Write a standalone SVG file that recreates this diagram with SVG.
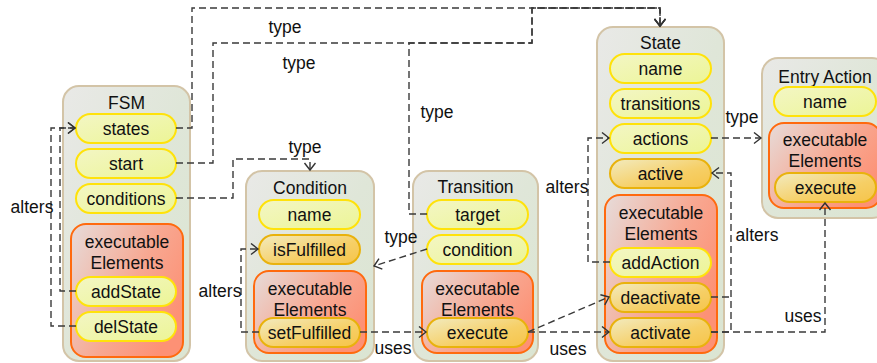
<svg xmlns="http://www.w3.org/2000/svg" width="877" height="363" viewBox="0 0 877 363">
<defs>
<linearGradient id="gCont" x1="0" y1="0" x2="1" y2="1"><stop offset="0" stop-color="#e9e9e7"/><stop offset="0.5" stop-color="#dfe6d8"/><stop offset="1" stop-color="#dbe5d2"/></linearGradient>
<linearGradient id="gYel" x1="0" y1="0" x2="1" y2="1"><stop offset="0" stop-color="#f3f6c4"/><stop offset="1" stop-color="#ecf596"/></linearGradient>
<linearGradient id="gOra" x1="0" y1="0" x2="1" y2="1"><stop offset="0" stop-color="#f2ebc0"/><stop offset="0.6" stop-color="#f6cf66"/><stop offset="1" stop-color="#f6c44a"/></linearGradient>
<linearGradient id="gExe" x1="0" y1="0" x2="1" y2="0.6"><stop offset="0" stop-color="#e6dcda"/><stop offset="0.6" stop-color="#f7a892"/><stop offset="1" stop-color="#fd9175"/></linearGradient>
<marker id="arr" markerUnits="userSpaceOnUse" markerWidth="12" markerHeight="14" refX="8" refY="6" orient="auto"><path d="M1,0.5 L8,6 L1,11.5" fill="none" stroke="#333" stroke-width="1.4"/></marker>
</defs>
<style>
.cont{fill:url(#gCont);stroke:#d3c4a7;stroke-width:2}
.exe{fill:url(#gExe);stroke:#ff6a0e;stroke-width:2}
.py{fill:url(#gYel);stroke:#ffe20a;stroke-width:2}
.po{fill:url(#gOra);stroke:#e9b20c;stroke-width:2}
text{font-family:"Liberation Sans",Arial,sans-serif;font-size:17.5px;fill:#111;text-anchor:middle;dominant-baseline:central}
.c path{fill:none;stroke:#3a3a3a;stroke-width:1.4;stroke-dasharray:7 4}
.lbl text{text-anchor:middle}
</style>

<g id="FSM">
<rect class="cont" x="63" y="86" width="127" height="275" rx="16"/>
<text x="126.5" y="103">FSM</text>
<rect class="py" x="76" y="114" width="100" height="29" rx="14.5"/><text x="126" y="128.5">states</text>
<rect class="py" x="76" y="149" width="100" height="29" rx="14.5"/><text x="126" y="163.5">start</text>
<rect class="py" x="76" y="184" width="100" height="29" rx="14.5"/><text x="126" y="198.5">conditions</text>
<g id="FSM-exec">
<rect class="exe" x="71" y="224" width="112" height="133" rx="15"/>
<text x="127" y="242">executable</text><text x="127" y="263">Elements</text>
<rect class="py" x="76" y="277" width="100" height="29" rx="14.5"/><text x="126" y="291.5">addState</text>
<rect class="py" x="76" y="312" width="100" height="29" rx="14.5"/><text x="126" y="326.5">delState</text>
</g>
</g>

<g id="Condition">
<rect class="cont" x="246" y="171" width="128" height="190" rx="16"/>
<text x="310" y="188">Condition</text>
<rect class="py" x="259" y="200" width="101" height="29" rx="14.5"/><text x="309.5" y="214.5">name</text>
<rect class="po" x="259" y="235" width="101" height="29" rx="14.5"/><text x="309.5" y="249.5">isFulfilled</text>
<g id="Condition-exec">
<rect class="exe" x="254" y="271" width="112" height="82" rx="15"/>
<text x="310" y="289">executable</text><text x="310" y="310">Elements</text>
<rect class="po" x="259" y="318" width="101" height="29" rx="14.5"/><text x="309.5" y="332.5">setFulfilled</text>
</g>
</g>

<g id="Transition">
<rect class="cont" x="413" y="171" width="125" height="190" rx="16"/>
<text x="475.5" y="187">Transition</text>
<rect class="py" x="427" y="200" width="101" height="29" rx="14.5"/><text x="477.5" y="214.5">target</text>
<rect class="py" x="427" y="235" width="101" height="29" rx="14.5"/><text x="477.5" y="249.5">condition</text>
<g id="Transition-exec">
<rect class="exe" x="422" y="271" width="111" height="82" rx="15"/>
<text x="477.5" y="289">executable</text><text x="477.5" y="310">Elements</text>
<rect class="po" x="427" y="318" width="101" height="29" rx="14.5"/><text x="477.5" y="332.5">execute</text>
</g>
</g>

<g id="State">
<rect class="cont" x="597" y="27" width="127" height="334" rx="16"/>
<text x="660.5" y="43">State</text>
<rect class="py" x="610" y="54" width="101" height="29" rx="14.5"/><text x="660.5" y="68.5">name</text>
<rect class="py" x="610" y="89" width="101" height="29" rx="14.5"/><text x="660.5" y="103.5">transitions</text>
<rect class="py" x="610" y="124" width="101" height="29" rx="14.5"/><text x="660.5" y="138.5">actions</text>
<rect class="po" x="610" y="159" width="101" height="29" rx="14.5"/><text x="660.5" y="173.5">active</text>
<g id="State-exec">
<rect class="exe" x="605" y="195" width="112" height="158" rx="15"/>
<text x="661" y="213">executable</text><text x="661" y="234">Elements</text>
<rect class="py" x="610" y="248" width="101" height="29" rx="14.5"/><text x="660.5" y="262.5">addAction</text>
<rect class="po" x="610" y="283" width="101" height="29" rx="14.5"/><text x="660.5" y="297.5">deactivate</text>
<rect class="po" x="610" y="318" width="101" height="29" rx="14.5"/><text x="660.5" y="332.5">activate</text>
</g>
</g>

<g id="EntryAction">
<rect class="cont" x="762" y="58" width="126" height="160" rx="16"/>
<text x="825" y="77">Entry Action</text>
<rect class="py" x="774" y="87" width="102" height="29" rx="14.5"/><text x="825" y="101.5">name</text>
<g id="EntryAction-exec">
<rect class="exe" x="769" y="123" width="112" height="85" rx="15"/>
<text x="825" y="140">executable</text><text x="825" y="161">Elements</text>
<rect class="po" x="775" y="173" width="101" height="29" rx="14.5"/><text x="825.5" y="187.5">execute</text>
</g>
</g>

<g id="connectors" class="c">
<path d="M176,128 H192 V8 H660 V26" marker-end="url(#arr)"/>
<path d="M176,163 H213 V43 H532 V8 H660 V26" marker-end="url(#arr)"/>
<path d="M427,214 H409 V43 H532 V8 H660 V26" marker-end="url(#arr)"/>
<path d="M176,198 H233 V159 H310 V170" marker-end="url(#arr)"/>
<path d="M76,326 H51 V128 H75" marker-end="url(#arr)"/>
<path d="M76,291 H60 V128 H75" marker-end="url(#arr)"/>
<path d="M427,249 L374,266" marker-end="url(#arr)"/>
<path d="M259,332 H241 V249 H258" marker-end="url(#arr)"/>
<path d="M360,332 H426" marker-end="url(#arr)"/>
<path d="M528,332 L609,297" marker-end="url(#arr)"/>
<path d="M528,332 H609" marker-end="url(#arr)"/>
<path d="M610,262 H588 V138 H609" marker-end="url(#arr)"/>
<path d="M711,138 H761" marker-end="url(#arr)"/>
<path d="M711,297 H731"/>
<path d="M711,332 H731 V173 H712" marker-end="url(#arr)"/>
<path d="M711,332 H825 V203" marker-end="url(#arr)"/>
</g>

<g id="labels" class="lbl">
<text x="285" y="27">type</text>
<text x="299" y="63">type</text>
<text x="305" y="147">type</text>
<text x="437" y="112">type</text>
<text x="401" y="237">type</text>
<text x="742" y="117">type</text>
<text x="32" y="207">alters</text>
<text x="220" y="291">alters</text>
<text x="567" y="187">alters</text>
<text x="757" y="235">alters</text>
<text x="393" y="348">uses</text>
<text x="568" y="349">uses</text>
<text x="803" y="316">uses</text>
</g>
</svg>
